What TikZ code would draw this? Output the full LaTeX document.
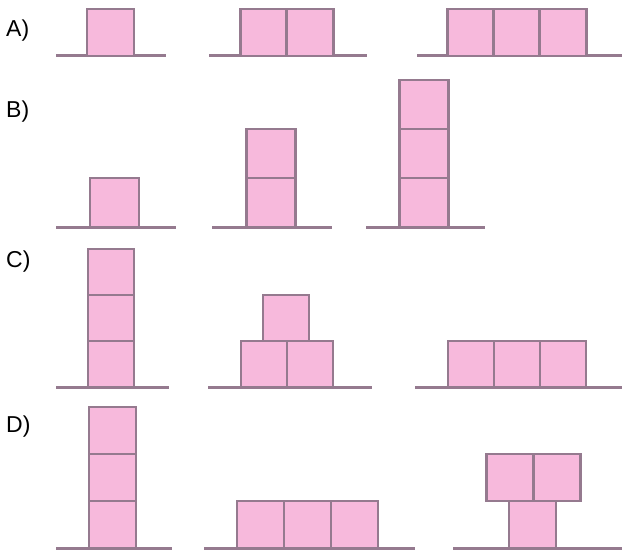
\documentclass[tikz,border=0pt]{standalone}
\usepackage{fontspec}
\setmainfont{Liberation Sans}
\definecolor{blockpink}{HTML}{F7B9DC}
\definecolor{edgemauve}{HTML}{957A8F}
\tikzset{
  block/.style={draw=edgemauve, fill=blockpink, line width=2.8pt, minimum size=47pt, inner sep=0pt},
  ground/.style={draw=edgemauve, line width=3pt},
  tag/.style={anchor=west, font=\fontsize{23}{27}\selectfont, inner sep=0pt}
}
\begin{document}
\begin{tikzpicture}[x=1pt, y=-1pt]
    \useasboundingbox (0,0) rectangle (625,551);
    % Row A
    \node[tag] (labA) at (6, 31) {A)};
    \coordinate (gA1l) at (56,56);  \coordinate (gA1r) at (166,56);
    \coordinate (gA2l) at (209,56); \coordinate (gA2r) at (367,56);
    \coordinate (gA3l) at (417,56); \coordinate (gA3r) at (622,56);
    \draw[ground] (gA1l) -- (gA1r);
    \draw[ground] (gA2l) -- (gA2r);
    \draw[ground] (gA3l) -- (gA3r);
    \node[block] (A1) at (110.5, 32.5) {};
    \node[block] (A2a) at (264, 32.5) {};
    \node[block] (A2b) at (310, 32.5) {};
    \node[block] (A3a) at (471, 32.5) {};
    \node[block] (A3b) at (517, 32.5) {};
    \node[block] (A3c) at (563, 32.5) {};

    % Row B
    \node[tag] (labB) at (6, 112) {B)};
    \coordinate (gB1l) at (56,227);  \coordinate (gB1r) at (176,227);
    \coordinate (gB2l) at (212,227); \coordinate (gB2r) at (332,227);
    \coordinate (gB3l) at (366,227); \coordinate (gB3r) at (485,227);
    \draw[ground] (gB1l) -- (gB1r);
    \draw[ground] (gB2l) -- (gB2r);
    \draw[ground] (gB3l) -- (gB3r);
    \node[block, minimum size=49pt] (B1) at (114.5, 202.5) {};
    \node[block, minimum size=49pt] (B2a) at (271, 202.5) {};
    \node[block, minimum size=49pt] (B2b) at (271, 153.5) {};
    \node[block, minimum size=49pt] (B3a) at (424, 202.5) {};
    \node[block, minimum size=49pt] (B3b) at (424, 153.5) {};
    \node[block, minimum size=49pt] (B3c) at (424, 104.5) {};

    % Row C
    \node[tag] (labC) at (6, 262) {C)};
    \coordinate (gC1l) at (56,387);  \coordinate (gC1r) at (169,387);
    \coordinate (gC2l) at (208,387); \coordinate (gC2r) at (372,387);
    \coordinate (gC3l) at (415,387); \coordinate (gC3r) at (622,387);
    \draw[ground] (gC1l) -- (gC1r);
    \draw[ground] (gC2l) -- (gC2r);
    \draw[ground] (gC3l) -- (gC3r);
    \node[block, minimum size=46pt] (C1a) at (111, 364) {};
    \node[block, minimum size=46pt] (C1b) at (111, 318) {};
    \node[block, minimum size=46pt] (C1c) at (111, 272) {};
    \node[block, minimum size=46pt] (C2a) at (264, 364) {};
    \node[block, minimum size=46pt] (C2b) at (310, 364) {};
    \node[block, minimum size=46pt] (C2c) at (286, 318) {};
    \node[block, minimum size=46pt] (C3a) at (471, 364) {};
    \node[block, minimum size=46pt] (C3b) at (517, 364) {};
    \node[block, minimum size=46pt] (C3c) at (563, 364) {};

    % Row D
    \node[tag] (labD) at (6, 427) {D)};
    \coordinate (gD1l) at (56,548);  \coordinate (gD1r) at (172,548);
    \coordinate (gD2l) at (204,548); \coordinate (gD2r) at (415,548);
    \coordinate (gD3l) at (453,548); \coordinate (gD3r) at (622,548);
    \draw[ground] (gD1l) -- (gD1r);
    \draw[ground] (gD2l) -- (gD2r);
    \draw[ground] (gD3l) -- (gD3r);
    \node[block] (D1a) at (112.5, 524.5) {};
    \node[block] (D1b) at (112.5, 477.5) {};
    \node[block] (D1c) at (112.5, 430.5) {};
    \node[block] (D2a) at (260.5, 524.5) {};
    \node[block] (D2b) at (307.5, 524.5) {};
    \node[block] (D2c) at (354.5, 524.5) {};
    \node[block] (D3a) at (532.5, 524.5) {};
    \node[block] (D3b) at (510, 477.5) {};
    \node[block] (D3c) at (557, 477.5) {};
\end{tikzpicture}
\end{document}
